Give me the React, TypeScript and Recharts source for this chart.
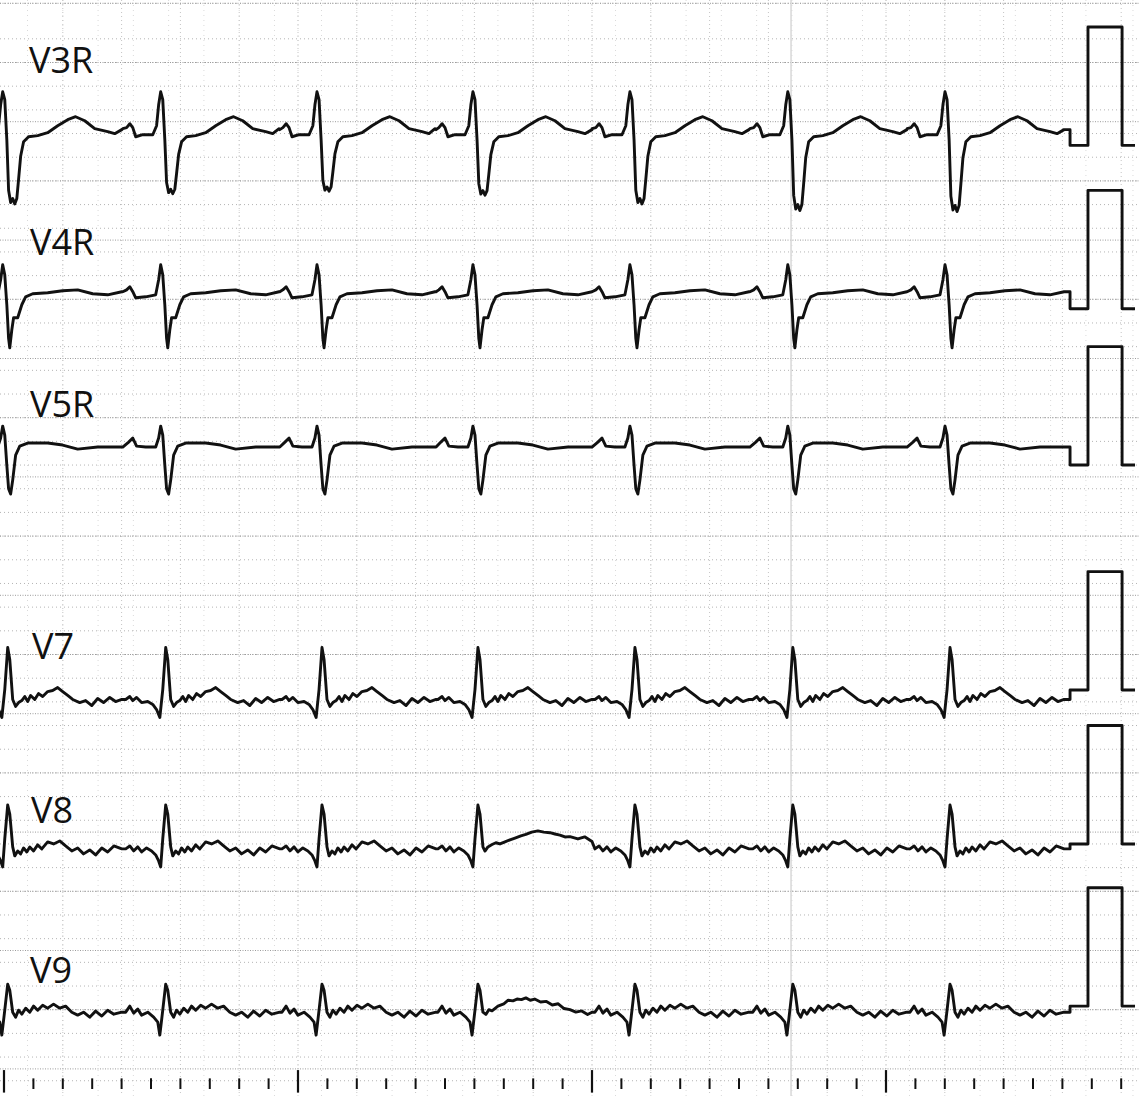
import React from 'react';
import { LineChart, Line, XAxis, YAxis, CartesianGrid, ReferenceLine } from 'recharts';

// ---- Data (time in ms relative to each beat, amplitude in mV relative to lead calibration base) ----
const LEAD_NAMES = ['V3R', 'V4R', 'V5R', 'V7', 'V8', 'V9'];

// beat reference times (s)
const BEAT_TIMES = [-0.0044, 0.533, 1.0646, 1.595, 2.129, 2.666, 3.2007];

const V3R_MS = [-129, -116, -105, -95, -85, -61, -27, -14, -7, 0, 7, 14, 20, 27, 34, 41, 48, 54, 61, 71, 88, 119, 153, 187, 221, 248, 279, 313, 357, 381, 405];
const V3R_MV = [0.141, 0.15, 0.183, 0.15, 0.073, 0.09, 0.09, 0.166, 0.343, 0.453, 0.386, 0.048, -0.33, -0.42, -0.39, -0.43, -0.39, -0.25, -0.08, 0.03, 0.073, 0.082, 0.107, 0.166, 0.217, 0.242, 0.208, 0.141, 0.116, 0.099, 0.133];
// per-beat depth factor of the V3R QRS (read from each S wave)
const V3R_QRS_DEPTH = [1.15, 0.95, 0.9, 0.98, 1.15, 1.28, 1.3];

const V4R_MS = [-129, -116, -105, -95, -85, -51, -17, -7, 0, 7, 14, 20, 24, 31, 37, 51, 65, 78, 102, 153, 204, 255, 306, 357, 405];
const V4R_MV = [0.144, 0.16, 0.186, 0.144, 0.093, 0.101, 0.118, 0.245, 0.372, 0.287, 0.034, -0.25, -0.33, -0.177, -0.076, -0.076, 0.034, 0.101, 0.127, 0.135, 0.152, 0.16, 0.127, 0.118, 0.144];

const V5R_MS = [-129, -109, -95, -82, -51, -17, -7, 0, 7, 14, 20, 27, 34, 44, 58, 85, 153, 204, 255, 323, 405];
const V5R_MV = [0.152, 0.194, 0.228, 0.16, 0.152, 0.152, 0.228, 0.329, 0.253, 0, -0.2, -0.245, -0.127, 0.084, 0.16, 0.186, 0.186, 0.169, 0.135, 0.152, 0.152];

const V7_MS = [-119, -105, -95, -82, -65, -44, -27, -14, -3, 7, 17, 24, 34, 44, 54, 65, 75, 85, 95, 109, 122, 136, 153, 170, 187, 204, 221, 238, 262, 282, 303, 323, 343, 364, 384, 405];
const V7_MV = [-0.08, -0.055, -0.089, -0.063, -0.106, -0.097, -0.122, -0.165, -0.232, 0.004, 0.359, 0.258, -0.08, -0.139, -0.106, -0.089, -0.055, -0.097, -0.046, -0.08, -0.03, -0.055, -0.013, -0.004, 0.021, -0.013, -0.046, -0.08, -0.106, -0.089, -0.131, -0.072, -0.106, -0.063, -0.097, -0.08];

const V8_MS = [-119, -105, -92, -78, -65, -48, -31, -17, -7, 0, 7, 17, 24, 34, 41, 51, 61, 71, 82, 92, 105, 119, 133, 153, 173, 194, 214, 235, 255, 275, 296, 316, 337, 357, 378, 405];
const V8_MV = [-0.042, -0.017, -0.059, -0.025, -0.068, -0.034, -0.059, -0.093, -0.144, -0.194, 0.042, 0.329, 0.253, -0.025, -0.101, -0.059, -0.084, -0.034, -0.068, -0.025, -0.059, -0.008, -0.042, 0.017, 0, 0.025, -0.017, -0.059, -0.034, -0.084, -0.051, -0.093, -0.034, -0.068, -0.017, -0.042];
// V8 fourth beat (raised T wave)
const V8_B4_MS = [-119, -105, -92, -78, -65, -48, -31, -17, -7, 0, 7, 17, 24, 34, 41, 51, 65, 78, 92, 109, 126, 143, 163, 180, 200, 221, 241, 262, 279, 296, 313, 330, 357, 380, 405];
const V8_B4_MV = [-0.042, -0.017, -0.059, -0.025, -0.068, -0.034, -0.059, -0.093, -0.144, -0.194, 0.042, 0.329, 0.253, -0.025, -0.06, -0.025, -0.005, 0.01, 0.0, 0.017, 0.035, 0.05, 0.068, 0.08, 0.1, 0.11, 0.1, 0.095, 0.084, 0.075, 0.059, 0.062, 0.042, 0.06, 0.02];

const V9_MS = [-119, -105, -92, -78, -65, -44, -24, -10, -3, 7, 17, 24, 34, 44, 54, 65, 78, 92, 105, 119, 136, 153, 173, 194, 214, 235, 255, 275, 296, 316, 337, 357, 378, 405];
const V9_MV = [-0.051, 0, -0.059, -0.025, -0.076, -0.051, -0.093, -0.135, -0.245, -0.034, 0.186, 0.135, -0.051, -0.093, -0.034, -0.068, -0.017, -0.051, 0, -0.034, 0.008, -0.017, 0.017, -0.017, 0, -0.051, -0.076, -0.051, -0.093, -0.042, -0.084, -0.034, -0.068, -0.051];
// V9 fourth beat (raised T wave)
const V9_B4_MS = [-119, -105, -92, -78, -65, -44, -24, -10, -3, 7, 17, 24, 34, 44, 54, 65, 85, 105, 120, 136, 150, 165, 180, 195, 210, 230, 250, 270, 290, 310, 330, 350, 370, 390, 405];
const V9_B4_MV = [-0.051, 0, -0.059, -0.025, -0.076, -0.051, -0.093, -0.135, -0.245, -0.034, 0.186, 0.135, -0.051, -0.07, -0.03, -0.04, 0.0, 0.02, 0.05, 0.045, 0.06, 0.055, 0.07, 0.05, 0.06, 0.035, 0.04, 0.01, 0.02, -0.02, -0.03, -0.05, -0.04, -0.07, -0.051];

// calibration pulse (s, mV)
const CAL_T = [3.626, 3.626, 3.687, 3.687, 3.803, 3.803, 3.847];
const CAL_V = [null, 0, 0, 1, 1, 0, 0];

// bottom time ticks every 0.1 s
const TICK_TIMES = Array.from({ length: 39 }, (_, i) => Math.round(i * 10) / 100);

// ---- Layout ----
const W = 1139;
const H = 1096;
const PX_PER_S = 294;
const PX_PER_MV = 118.4;
const X0_PX = 4;
const Y0_PX = 3.3;
const X_DOMAIN = [-X0_PX / PX_PER_S, (W - X0_PX) / PX_PER_S];
const Y_DOMAIN = [-(H - Y0_PX) / PX_PER_MV, Y0_PX / PX_PER_MV];
const LEAD_BASE = [-1.2, -2.58, -3.9, -5.8, -7.1, -8.47];
const LABEL_POS = [[29, 73], [30, 255], [30, 417], [32, 659], [31, 823], [30, 983]];

type Tpl = [number[], number[]];
const TEMPLATES: { base: Tpl; depth?: number[]; overrides?: Record<number, Tpl> }[] = [
  { base: [V3R_MS, V3R_MV], depth: V3R_QRS_DEPTH },
  { base: [V4R_MS, V4R_MV] },
  { base: [V5R_MS, V5R_MV] },
  { base: [V7_MS, V7_MV] },
  { base: [V8_MS, V8_MV], overrides: { 3: [V8_B4_MS, V8_B4_MV] } },
  { base: [V9_MS, V9_MV], overrides: { 3: [V9_B4_MS, V9_B4_MV] } },
];

function buildTrace(def: (typeof TEMPLATES)[number], baseMv: number) {
  const pts: { t: number; v: number }[] = [];
  BEAT_TIMES.forEach((bt, b) => {
    const [ms, mv] = (def.overrides && def.overrides[b]) || def.base;
    const k = def.depth ? def.depth[b] : 1;
    ms.forEach((m, i) => {
      const v = mv[i] < 0 && m > 0 && m < 70 ? mv[i] * k : mv[i];
      pts.push({ t: bt + m / 1000, v });
    });
  });
  pts.sort((a, b) => a.t - b.t);
  const lastMv = def.base[1][def.base[1].length - 1];
  CAL_T.forEach((t, i) => {
    const v = CAL_V[i] === null ? lastMv : (CAL_V[i] as number);
    pts.push({ t, v });
  });
  return pts.map((p) => ({ t: p.t, v: p.v + baseMv }));
}

const TRACES = TEMPLATES.map((def, i) => buildTrace(def, LEAD_BASE[i]));

const range = (a: number, b: number, step: number) => {
  const out: number[] = [];
  for (let k = 0; a + k * step <= b + 1e-9; k++) out.push(Math.round((a + k * step) * 10000) / 10000);
  return out;
};
const MINOR_X = range(0, 3.84, 0.04);
const MAJOR_X = range(0, 3.8, 0.2);
const MINOR_Y = range(-9.2, 0, 0.1);
const MAJOR_Y = range(-9.0, 0, 0.5);

const TICK_BIG = [-9.01, -9.2];
const TICK_SMALL = [-9.08, -9.17];

export default function App() {
  return (
    <div style={{ position: 'absolute', left: 0, top: 0, width: W, height: H, background: '#fff' }}>
      <LineChart width={W} height={H} margin={{ top: 0, right: 0, bottom: 0, left: 0 }}>
        <XAxis dataKey="t" type="number" domain={X_DOMAIN} allowDataOverflow hide />
        <YAxis dataKey="v" type="number" domain={Y_DOMAIN} allowDataOverflow hide />
        <CartesianGrid horizontal={false} verticalValues={MINOR_X} stroke="#dadada" strokeDasharray="1 4" strokeWidth={1} />
        <CartesianGrid horizontal={false} verticalValues={MAJOR_X} stroke="#c4c4c4" strokeDasharray="1 3" strokeWidth={1} />
        <CartesianGrid vertical={false} horizontalValues={MINOR_Y} stroke="#b4b4b4" strokeDasharray="1 3" strokeWidth={1} />
        <CartesianGrid vertical={false} horizontalValues={MAJOR_Y} stroke="#9c9c9c" strokeDasharray="1 1.5" strokeWidth={1} />
        <ReferenceLine x={2.677} stroke="#d8d8d8" strokeWidth={1.5} />
        {TICK_TIMES.map((t, i) => (
          <ReferenceLine
            key={'tk' + i}
            segment={[
              { x: t, y: i % 10 === 0 ? TICK_BIG[0] : TICK_SMALL[0] },
              { x: t, y: i % 10 === 0 ? TICK_BIG[1] : TICK_SMALL[1] },
            ]}
            stroke="#111"
            strokeWidth={i % 10 === 0 ? 2.2 : 2}
            ifOverflow="visible"
          />
        ))}
        {TRACES.map((data, i) => (
          <Line
            key={LEAD_NAMES[i]}
            data={data}
            dataKey="v"
            type="linear"
            dot={false}
            activeDot={false}
            stroke="#111"
            strokeWidth={2.9}
            strokeLinejoin="round"
            isAnimationActive={false}
          />
        ))}
      </LineChart>
      <svg width={W} height={H} style={{ position: 'absolute', left: 0, top: 0, pointerEvents: 'none' }}>
        {LEAD_NAMES.map((name, i) => (
          <text
            key={name}
            x={LABEL_POS[i][0]}
            y={LABEL_POS[i][1]}
            fontFamily="'Open Sans', sans-serif"
            fontSize={36}
            fill="#111"
          >
            {name}
          </text>
        ))}
      </svg>
    </div>
  );
}
